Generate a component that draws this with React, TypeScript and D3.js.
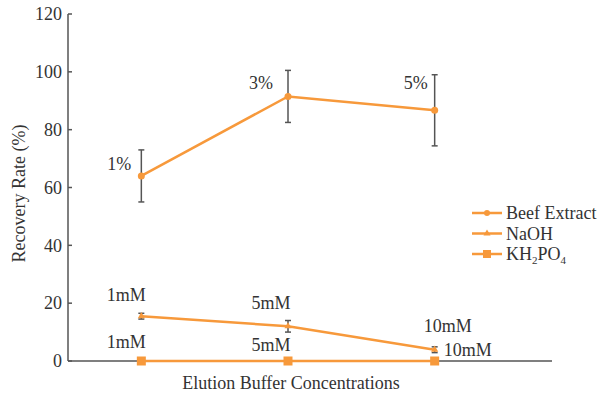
import React from 'react';
import * as d3 from 'd3';

const categories = [0, 1, 2];
const beefValues = [64, 91.5, 86.7];
const beefErrors = [9, 9, 12.3];
const beefLabels = ['1%', '3%', '5%'];
const naohValues = [15.5, 12, 3.9];
const naohErrors = [1, 2, 1];
const naohLabels = ['1mM', '5mM', '10mM'];
const khValues = [0, 0, 0];
const khLabels = ['1mM', '5mM', '10mM'];
const yTicks = [0, 20, 40, 60, 80, 100, 120];

const W = 613, H = 394;
const margin = { left: 68, right: 61, top: 14, bottom: 33 };
const orange = '#F7993B';
const gray = '#555';
const textColor = '#333';
const font = "'Liberation Serif', 'Times New Roman', serif";
const fs = 18;

const x = d3.scaleLinear().domain([-0.5, 2.8]).range([margin.left, W - margin.right]);
const y = d3.scaleLinear().domain([0, 120]).range([H - margin.bottom, margin.top]);

// label offsets relative to each point
const beefOffsets = [[-10, -6, 'end'], [-15, -7, 'end'], [-7, -21, 'end']];
const naohOffsets = [[-15, -15, 'middle'], [-17, -17, 'middle'], [13, -18, 'middle']];
const khOffsets = [[-15, -13, 'middle'], [-17, -10, 'middle'], [9, -5, 'start']];

const line = d3.line<number>().x((d, i) => x(categories[i])).y(d => y(d));

function ErrorBars({ values, errors }: { values: number[]; errors: number[] }) {
  return (
    <g stroke={gray} strokeWidth={1.5}>
      {values.map((v, i) => {
        const cx = x(categories[i]);
        return (
          <g key={i}>
            <line x1={cx} x2={cx} y1={y(v - errors[i])} y2={y(v + errors[i])} />
            <line x1={cx - 3} x2={cx + 3} y1={y(v - errors[i])} y2={y(v - errors[i])} />
            <line x1={cx - 3} x2={cx + 3} y1={y(v + errors[i])} y2={y(v + errors[i])} />
          </g>
        );
      })}
    </g>
  );
}

function Labels({ values, labels, offsets }: { values: number[]; labels: string[]; offsets: any[] }) {
  return (
    <g>
      {values.map((v, i) => (
        <text key={i} x={x(categories[i]) + offsets[i][0]} y={y(v) + offsets[i][1]} textAnchor={offsets[i][2]}>
          {labels[i]}
        </text>
      ))}
    </g>
  );
}

const tri = d3.symbol().type(d3.symbolTriangle).size(22)();

export default function App() {
  const legendX = 472;
  const legendY = [213, 233.5, 254];
  return (
    <svg width={W} height={H} style={{ position: 'absolute', left: 0, top: 0, background: '#fff', fontFamily: font, fontSize: fs, fill: textColor }}>
      {/* axes */}
      <line x1={margin.left} x2={margin.left} y1={y(0)} y2={y(120)} stroke={gray} strokeWidth={1.5} />
      <line x1={margin.left} x2={W - margin.right} y1={y(0)} y2={y(0)} stroke={gray} strokeWidth={1.5} />
      {yTicks.map(t => (
        <g key={t}>
          <line x1={margin.left} x2={margin.left + 4} y1={y(t)} y2={y(t)} stroke={gray} strokeWidth={1.5} />
          <text x={margin.left - 6} y={y(t)} dy="0.35em" textAnchor="end">{t}</text>
        </g>
      ))}
      <text transform={`translate(25,${(y(0) + y(120)) / 2 + 6}) rotate(-90)`} textAnchor="middle">
        Recovery Rate (%)
      </text>
      <text x={291} y={389} textAnchor="middle">
        Elution Buffer Concentrations
      </text>

      {/* Beef Extract */}
      <ErrorBars values={beefValues} errors={beefErrors} />
      <path d={line(beefValues) || ''} fill="none" stroke={orange} strokeWidth={2.5} />
      {beefValues.map((v, i) => <circle key={i} cx={x(categories[i])} cy={y(v)} r={3.5} fill={orange} />)}
      <Labels values={beefValues} labels={beefLabels} offsets={beefOffsets} />

      {/* NaOH */}
      <ErrorBars values={naohValues} errors={naohErrors} />
      <path d={line(naohValues) || ''} fill="none" stroke={orange} strokeWidth={2.5} />
      {naohValues.map((v, i) => <path key={i} d={tri || ''} transform={`translate(${x(categories[i])},${y(v)})`} fill={orange} />)}
      <Labels values={naohValues} labels={naohLabels} offsets={naohOffsets} />

      {/* KH2PO4 */}
      <path d={line(khValues) || ''} fill="none" stroke={orange} strokeWidth={2.5} />
      {khValues.map((v, i) => <rect key={i} x={x(categories[i]) - 4.5} y={y(v) - 4.5} width={9} height={9} fill={orange} />)}
      <Labels values={khValues} labels={khLabels} offsets={khOffsets} />

      {/* legend */}
      <g>
        <line x1={legendX} x2={legendX + 30} y1={legendY[0]} y2={legendY[0]} stroke={orange} strokeWidth={2.5} />
        <circle cx={legendX + 15} cy={legendY[0]} r={3} fill={orange} />
        <text x={legendX + 34} y={legendY[0]} dy="0.35em">Beef Extract</text>
        <line x1={legendX} x2={legendX + 30} y1={legendY[1]} y2={legendY[1]} stroke={orange} strokeWidth={2.5} />
        <path d={tri || ''} transform={`translate(${legendX + 15},${legendY[1]})`} fill={orange} />
        <text x={legendX + 34} y={legendY[1]} dy="0.35em">NaOH</text>
        <line x1={legendX} x2={legendX + 30} y1={legendY[2]} y2={legendY[2]} stroke={orange} strokeWidth={2.5} />
        <rect x={legendX + 11} y={legendY[2] - 4} width={8} height={8} fill={orange} />
        <text x={legendX + 34} y={legendY[2]} dy="0.35em">
          KH<tspan fontSize={11} dy="4">2</tspan><tspan dy="-4">PO</tspan><tspan fontSize={11} dy="4">4</tspan>
        </text>
      </g>
    </svg>
  );
}
